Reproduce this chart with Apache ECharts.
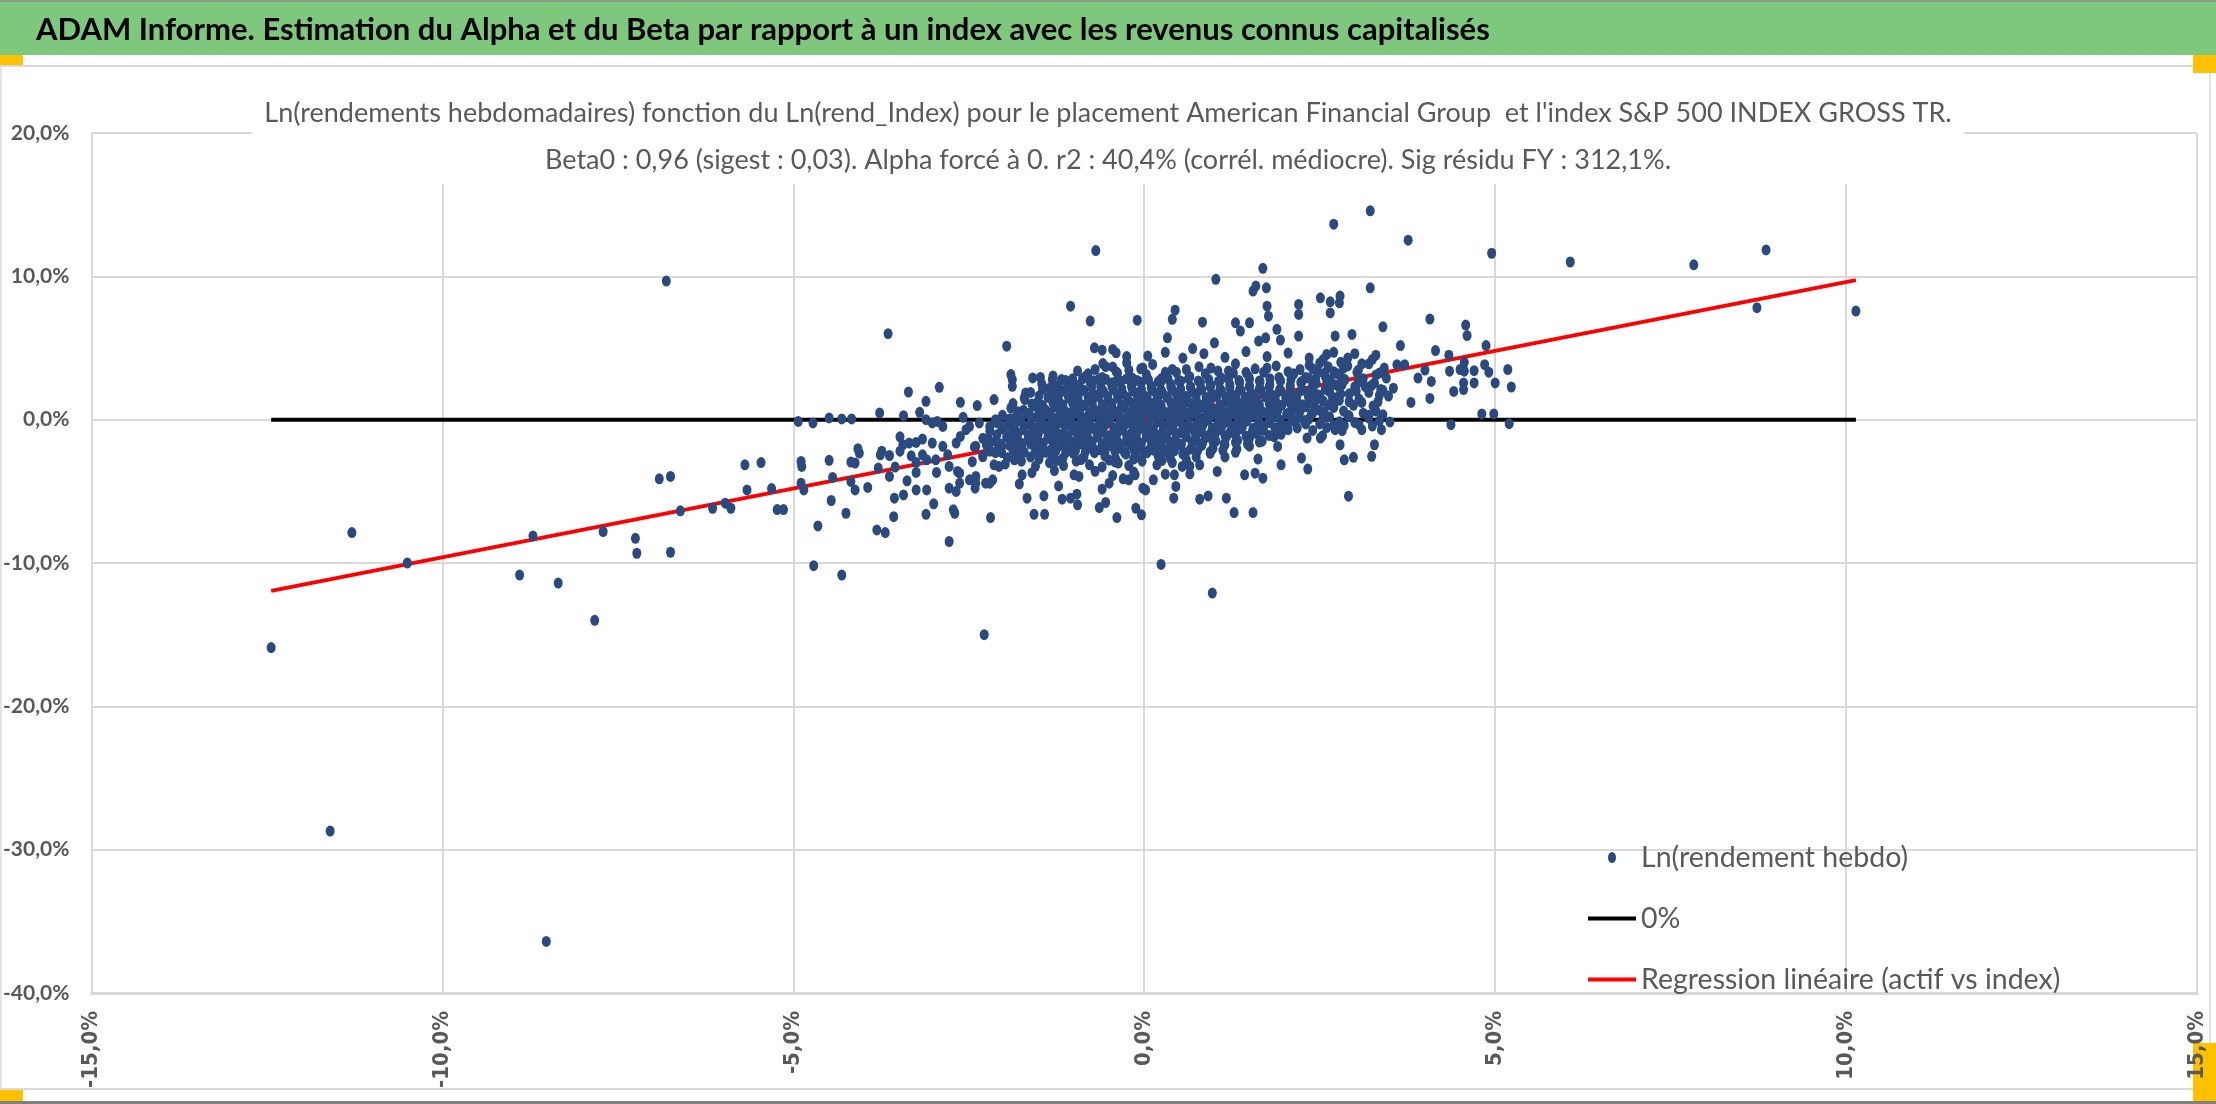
<!DOCTYPE html>
<html>
<head>
<meta charset="utf-8">
<title>ADAM Informe - Alpha et Beta</title>
<script src="https://cdn.jsdelivr.net/npm/echarts/dist/echarts.min.js"></script>
<style>
    html, body { margin: 0; padding: 0; background: #fff; }
    #chart { width: 2216px; height: 1104px; }
</style>
</head>
<body>
<div id="chart"></div>
<script>
/**
 * Ln(rendement hebdo) de l'actif contre Ln(rend_Index)
 */
var headerText = 'ADAM Informe. Estimation du Alpha et du Beta par rapport à un index avec les revenus connus capitalisés';
var titleLines = [
    "Ln(rendements hebdomadaires) fonction du Ln(rend_Index) pour le placement American Financial Group  et l'index S&P 500 INDEX GROSS TR.",
    'Beta0 : 0,96 (sigest : 0,03). Alpha forcé à 0. r2 : 40,4% (corrél. médiocre). Sig résidu FY : 312,1%.'
];
var seriesNames = ['Ln(rendement hebdo)', '0%', 'Regression linéaire (actif vs index)'];
var beta = 0.96;
var xRange = [-15, 15, 5];
var yRange = [-40, 20, 10];

// points : [index %, actif %]
var farPoints = [
    [-12.44,-15.9],[-11.6,-28.7],[-11.29,-7.88],[-10.5,-10.0],[-8.9,-10.84],[-8.71,-8.11],[-8.52,-36.4],
    [-8.35,-11.4],[-7.83,-14.0],[-7.71,-7.81],[-7.25,-8.28],[-7.23,-9.32],[-6.91,-4.13],[-6.81,9.67],
    [-6.75,-3.96],[-6.75,-9.25],[-6.61,-6.36],[-6.15,-6.18],[-5.97,-5.83],[-5.89,-6.18],[-5.69,-3.15],
    [-5.66,-4.9],[-5.46,-2.99],[-5.31,-4.81],[-5.23,-6.27],[-5.14,-6.27],[-4.93,-0.12],[-4.72,-0.23],
    [-4.49,0.12],[-4.31,0.05],[-4.17,0.05],[-3.77,0.47],[-4.89,-2.91],[-4.88,-3.26],[-4.89,-4.43],
    [-4.85,-4.9],[-4.71,-10.19],[-4.65,-7.41],[-4.49,-2.84],[-4.44,-4.03],[-4.46,-5.64],[-4.31,-10.84],
    [-4.25,-6.53],[-4.18,-2.96],[-4.12,-3.03],[-4.08,-2.03],[-4.06,-2.33],[-4.18,-4.31],[-4.12,-4.9],
    [-3.94,-4.73],[-3.81,-7.69],[-3.69,-7.88],[-3.79,-3.38],[-3.74,-2.2],[-3.76,-2.45],[-3.63,-2.5],
    [-3.63,-3.96],[-3.55,-3.31],[-3.56,-5.48],[-3.57,-6.77],[-3.43,-5.25],[-3.48,-1.2],[-3.48,-2.2],
    [-3.65,6.0]
];
var midPoints = [
    [-3.36,1.93],[-2.92,2.26],[-3.11,1.28],[-2.62,1.21],[-2.38,0.98],[-2.14,1.4],[-1.69,1.86],[-1.71,1.51],
    [-1.87,1.12],[-3.43,0.28],[-3.2,0.51],[-3.44,-1.75],[-3.35,-1.63],[-3.25,-1.59],[-3.16,-1.35],[-3.11,0.0],
    [-3.02,-0.23],[-2.95,-0.12],[-2.87,-0.47],[-3.32,-2.52],[-3.25,-2.98],[-3.25,-3.68],[-3.16,-2.45],
    [-3.1,-2.8],[-3.02,-1.63],[-2.97,-2.8],[-2.96,-3.68],[-2.87,-1.86],[-2.8,-2.45],[-2.78,-3.26],
    [-2.66,-3.61],[-2.68,-1.63],[-2.62,-1.17],[-2.54,-0.7],[-2.49,-0.47],[-2.58,0.16],[-2.45,-2.93],
    [-2.4,-1.86],[-2.35,-0.23],[-2.3,-2.59],[-2.23,-1.31],[-2.2,-0.47],[-2.12,0.0],[-2.07,-3.26],
    [-2.14,-3.15],[-2.16,-4.2],[-2.2,-4.43],[-2.4,-4.43],[-2.41,-4.78],[-2.26,-4.43],[-2.4,-3.96],
    [-2.49,-4.2],[-2.78,-4.78],[-2.68,-5.01],[-2.63,-4.43],[-2.63,-3.73],[-2.7,-6.53],[-2.72,-6.29],
    [-2.78,-8.5],[-3.0,-5.87],[-3.11,-6.6],[-3.1,-4.9],[-3.25,-4.9],[-3.38,-4.27],[-2.28,-15.0],
    [-2.19,-6.83],[-1.67,-5.48],[-1.57,-6.6],[-1.42,-6.6],[-1.43,-5.31],[-1.78,-4.48],[-1.22,-4.62],
    [-1.17,-5.55],[-1.05,-5.48],[-0.96,-5.2],[-0.95,-5.94],[-0.64,-6.13],[-0.55,-5.78],[-0.39,-6.83],
    [-0.12,-6.18],[-0.04,-6.64],[-0.6,-4.85],[-0.5,-4.43],[-0.3,-4.13],[-0.22,-4.2],[-0.13,-3.85],
    [-0.02,-4.78],[-0.93,-3.96],[-1.74,-3.85],[-1.05,7.92],[-0.77,6.88],[-0.1,6.94],[-0.69,11.8],
    [-1.96,5.13],[-0.71,5.01],[-0.6,4.85],[-0.4,4.66],[-0.59,3.91],[-0.45,3.68],[-0.25,3.96],[-0.02,3.61],
    [-1.9,3.15],[-1.88,2.8],[-1.88,2.33],[-1.59,2.91],[-1.48,2.95],[-1.31,2.8],[-1.12,2.73],[-0.83,3.03],
    [-0.64,2.84]
];
var rightPoints = [
    [3.22,14.57],[2.7,13.64],[3.76,12.52],[4.95,11.61],[6.07,11.0],[7.83,10.8],[8.86,11.84],[8.73,7.81],
    [10.14,7.58],[1.69,10.56],[1.02,9.79],[1.59,9.32],[1.55,8.97],[1.74,9.2],[3.22,9.2],[2.79,8.62],
    [2.51,8.5],[2.65,8.22],[2.78,8.15],[2.65,7.45],[2.2,8.04],[2.2,7.34],[1.75,7.92],[1.77,7.22],
    [0.44,7.64],[0.4,7.0],[0.83,6.8],[1.3,6.76],[1.37,6.18],[1.5,6.76],[1.89,6.3],[3.4,6.48],[4.07,7.02],
    [4.58,6.6],[4.6,5.87],[4.87,5.17],[4.15,4.82],[3.65,5.17],[2.96,5.95],[2.72,5.83],[2.2,5.83],
    [1.94,5.55],[1.63,5.48],[1.73,5.71],[1.0,5.36],[0.33,5.71],[0.69,4.96],[4.34,4.5],[4.35,3.38],
    [4.56,3.38],[4.55,2.56],[4.7,2.56],[4.41,1.97],[4.55,2.1],[4.5,3.5],[4.56,4.0],[4.7,3.42],[4.85,3.84],
    [4.91,3.31],[5.0,2.56],[5.18,3.5],[5.23,2.28],[4.81,0.4],[4.98,0.4],[5.2,-0.28],[4.37,-0.35],
    [3.5,-0.16],[3.38,-0.7],[3.28,-1.75],[3.24,-2.56],[2.98,-2.63],[2.85,-2.8],[2.91,-5.34],[2.79,-1.75],
    [2.72,-0.7],[2.82,-0.77],[2.54,-1.12],[2.51,-1.28],[2.32,-1.28],[2.33,-3.45],[2.24,-2.68],[1.95,-3.15],
    [1.9,-1.87],[1.62,-2.75],[1.58,-3.73],[1.69,-4.08],[1.43,-3.85],[1.55,-6.48],[1.28,-6.48],[1.17,-5.48],
    [1.04,-3.61],[0.91,-5.32],[0.79,-5.55],[0.79,-3.15],[0.65,-3.78],[0.42,-5.48],[0.45,-4.66],[0.43,-3.85],
    [0.54,-3.26],[0.24,-10.1],[0.97,-12.1],[0.13,-4.2],[0.02,-4.9],[-0.37,-3.03],[3.37,2.1],[3.55,2.2],
    [3.48,1.65],[3.6,3.84],[3.71,3.84],[3.42,3.6],[3.3,3.1],[4.0,3.46],[4.07,1.48],[4.09,2.67],[3.9,2.9],
    [3.8,1.2],[2.9,4.3],[3.1,3.9],[3.3,4.5],[2.7,4.7],[3.15,2.3],[3.35,1.7],[3.1,1.2],[3.3,0.6],[2.9,0.3],
    [3.2,0.1],[3.45,2.9],[3.0,-0.2],[2.7,-0.4],[3.25,-0.45]
];
// le noyau dense autour de zéro
var corePoints = [
    [-0.45,4.9],[-0.25,4.4],[0.05,4.45],[0.3,4.7],[0.55,4.3],[0.85,4.6],[1.15,4.35],[1.45,4.75],[1.75,4.4],[2.05,4.65],[2.35,4.3],[2.6,4.55],
    [-0.55,3.7],[-0.22,3.45],[0.12,3.85],[0.4,3.5],[0.78,3.7],[1.05,3.4],[1.3,3.9],[1.58,3.55],[1.88,3.75],[2.22,3.5],[2.5,3.95],[2.84,3.6],
    [-1.3,3.05],[-1.02,2.85],[-0.8,3.2],[-0.6,2.95],[-0.38,3.25],[-0.17,2.9],[0.03,3.15],[0.24,2.85],[0.46,3.3],[0.65,3.0],[0.87,3.2],
    [1.1,2.9],[1.27,3.25],[1.49,3.0],[1.7,3.3],[1.92,2.95],[2.13,3.2],[2.34,2.9],[2.57,3.25],[2.8,3.0],[3.03,3.3],
    [-1.46,2.5],[-1.26,2.35],[-1.1,2.65],[-0.94,2.4],[-0.77,2.6],[-0.62,2.3],[-0.47,2.55],[-0.33,2.7],[-0.18,2.4],[-0.04,2.6],[0.1,2.35],
    [0.24,2.65],[0.38,2.45],[0.52,2.7],[0.66,2.3],[0.8,2.55],[0.95,2.4],[1.08,2.7],[1.22,2.45],[1.36,2.6],[1.5,2.35],[1.65,2.65],
    [1.79,2.45],[1.94,2.7],[2.08,2.4],[2.23,2.6],[2.4,2.35],[2.6,2.7],[2.82,2.45],[3.05,2.6],[3.24,2.4],
    [-1.62,1.9],[-1.45,2.1],[-1.3,1.75],[-1.15,2.0],[-1.0,1.8],[-0.86,2.05],[-0.72,1.7],[-0.58,1.95],[-0.44,2.1],[-0.3,1.8],[-0.16,2.0],
    [-0.02,1.75],[0.12,2.05],[0.26,1.85],[0.4,2.1],[0.54,1.7],[0.68,1.95],[0.82,2.1],[0.96,1.8],[1.1,2.0],[1.24,1.75],[1.38,2.05],
    [1.52,1.85],[1.66,2.1],[1.8,1.8],[1.95,2.0],[2.1,1.75],[2.26,2.05],[2.43,1.85],[2.6,2.1],[2.8,1.8],[3.02,2.0],
    [-1.7,1.4],[-1.52,1.2],[-1.37,1.55],[-1.22,1.3],[-1.07,1.5],[-0.93,1.2],[-0.79,1.45],[-0.65,1.6],[-0.51,1.25],[-0.37,1.5],[-0.23,1.3],
    [-0.09,1.55],[0.05,1.2],[0.19,1.45],[0.33,1.6],[0.47,1.3],[0.61,1.5],[0.75,1.2],[0.89,1.45],[1.03,1.6],[1.17,1.3],[1.31,1.5],
    [1.45,1.2],[1.59,1.45],[1.73,1.6],[1.87,1.3],[2.02,1.5],[2.18,1.2],[2.35,1.45],[2.55,1.3],[2.75,1.55],[2.92,1.25],
    [-1.9,0.8],[-1.72,0.65],[-1.56,0.95],[-1.41,0.7],[-1.27,0.9],[-1.13,0.6],[-0.99,0.85],[-0.85,1.0],[-0.71,0.7],[-0.57,0.9],[-0.43,0.6],
    [-0.29,0.85],[-0.15,1.0],[-0.01,0.7],[0.13,0.9],[0.27,0.6],[0.41,0.85],[0.55,1.0],[0.69,0.7],[0.83,0.9],[0.97,0.6],[1.11,0.85],
    [1.25,1.0],[1.39,0.7],[1.53,0.9],[1.67,0.6],[1.81,0.85],[1.96,1.0],[2.12,0.7],[2.3,0.9],[2.5,0.65],[2.7,0.85],
    [-2.02,0.3],[-1.85,0.1],[-1.68,0.45],[-1.53,0.2],[-1.39,0.4],[-1.25,0.1],[-1.11,0.35],[-0.97,0.5],[-0.83,0.15],[-0.69,0.4],[-0.55,0.2],
    [-0.41,0.45],[-0.27,0.1],[-0.13,0.35],[0.01,0.5],[0.15,0.2],[0.29,0.4],[0.43,0.1],[0.57,0.35],[0.71,0.5],[0.85,0.15],[0.99,0.4],
    [1.13,0.2],[1.27,0.45],[1.41,0.1],[1.55,0.35],[1.7,0.5],[1.86,0.2],[2.03,0.4],[2.2,0.1],[2.38,0.35],[2.55,0.15],
    [-2.1,-0.2],[-1.93,-0.4],[-1.77,-0.1],[-1.62,-0.35],[-1.48,-0.15],[-1.34,-0.45],[-1.2,-0.2],[-1.06,-0.05],[-0.92,-0.4],[-0.78,-0.15],
    [-0.64,-0.35],[-0.5,-0.1],[-0.36,-0.45],[-0.22,-0.2],[-0.08,-0.05],[0.06,-0.4],[0.2,-0.15],[0.34,-0.35],[0.48,-0.1],[0.62,-0.45],
    [0.76,-0.2],[0.9,-0.05],[1.04,-0.4],[1.18,-0.15],[1.32,-0.35],[1.46,-0.1],[1.62,-0.4],[1.78,-0.2],[1.95,-0.35],[2.12,-0.1],[2.3,-0.3],
    [-2.2,-0.8],[-2.03,-0.65],[-1.87,-0.95],[-1.72,-0.7],[-1.58,-0.9],[-1.44,-0.6],[-1.3,-0.85],[-1.16,-1.0],[-1.02,-0.7],[-0.88,-0.9],
    [-0.74,-0.6],[-0.6,-0.85],[-0.46,-1.0],[-0.32,-0.7],[-0.18,-0.9],[-0.04,-0.6],[0.1,-0.85],[0.24,-1.0],[0.38,-0.7],[0.52,-0.9],
    [0.66,-0.6],[0.8,-0.85],[0.94,-1.0],[1.08,-0.7],[1.22,-0.9],[1.37,-0.65],[1.53,-0.95],[1.7,-0.75],[1.88,-0.9],[2.05,-0.7],
    [-2.3,-1.3],[-2.12,-1.5],[-1.96,-1.2],[-1.8,-1.45],[-1.65,-1.25],[-1.5,-1.55],[-1.36,-1.3],[-1.22,-1.15],[-1.08,-1.45],[-0.94,-1.25],
    [-0.8,-1.5],[-0.66,-1.2],[-0.52,-1.4],[-0.38,-1.55],[-0.24,-1.25],[-0.1,-1.45],[0.04,-1.2],[0.18,-1.5],[0.32,-1.3],[0.46,-1.55],
    [0.6,-1.2],[0.74,-1.45],[0.88,-1.25],[1.02,-1.5],[1.17,-1.2],[1.33,-1.45],[1.5,-1.3],[1.68,-1.5],[1.85,-1.2],
    [-2.42,-1.9],[-2.25,-1.75],[-2.08,-2.05],[-1.92,-1.8],[-1.77,-2.0],[-1.62,-1.7],[-1.47,-1.95],[-1.33,-2.1],[-1.19,-1.8],[-1.05,-2.0],
    [-0.91,-1.7],[-0.77,-1.95],[-0.63,-2.1],[-0.49,-1.8],[-0.35,-2.0],[-0.21,-1.75],[-0.07,-1.95],[0.07,-2.1],[0.21,-1.8],[0.35,-2.0],
    [0.5,-1.75],[0.66,-2.05],[0.82,-1.8],[0.98,-2.0],[1.15,-1.75],[1.32,-2.05],[1.5,-1.85],
    [-2.3,-2.5],[-2.12,-2.3],[-1.95,-2.65],[-1.78,-2.4],[-1.62,-2.6],[-1.46,-2.3],[-1.31,-2.55],[-1.16,-2.7],[-1.01,-2.35],[-0.86,-2.6],
    [-0.71,-2.3],[-0.56,-2.55],[-0.41,-2.7],[-0.26,-2.4],[-0.11,-2.6],[0.04,-2.3],[0.2,-2.55],[0.37,-2.7],[0.55,-2.4],[0.74,-2.6],
    [0.94,-2.35],[1.15,-2.6],
    [-1.98,-3.1],[-1.75,-2.9],[-1.55,-3.25],[-1.35,-3.0],[-1.15,-3.2],[-0.97,-2.9],[-0.78,-3.15],[-0.6,-3.3],[-0.42,-2.95],[-0.22,-3.2],
    [-0.03,-2.9],[0.18,-3.15],[0.4,-3.0],[0.65,-3.25],
    [-1.6,-3.7],[-1.28,-3.55],[-1.0,-3.85],[-0.7,-3.6],[-0.45,-3.9],[-0.15,-3.65],[0.3,-3.8]
];
// deuxième couche du noyau, entre les précédentes
var coreFillPoints = [
    [-0.95,3.4],[-0.7,3.5],[-0.4,3.35],[-0.05,3.55],[0.3,3.3],[0.6,3.5],[0.95,3.6],[1.2,3.4],[1.45,3.3],[1.75,3.6],[2.05,3.35],[2.4,3.55],[2.7,3.35],
    [-1.18,2.8],[-1.03,2.7],[-0.88,2.85],[-0.72,2.72],[-0.55,2.82],[-0.4,2.68],[-0.25,2.86],[-0.1,2.74],[0.06,2.8],[0.2,2.66],[0.34,2.84],
    [0.49,2.72],[0.63,2.86],[0.77,2.7],[0.92,2.8],[1.06,2.68],[1.2,2.85],[1.35,2.74],[1.5,2.82],[1.64,2.7],[1.79,2.86],[1.94,2.72],
    [2.09,2.8],[2.25,2.68],[2.44,2.84],[2.65,2.75],
    [-1.35,2.2],[-1.2,2.1],[-1.05,2.28],[-0.9,2.14],[-0.75,2.24],[-0.6,2.1],[-0.46,2.3],[-0.32,2.16],[-0.18,2.26],[-0.04,2.12],[0.1,2.22],
    [0.24,2.08],[0.38,2.28],[0.52,2.15],[0.66,2.25],[0.8,2.1],[0.94,2.28],[1.08,2.14],[1.22,2.24],[1.36,2.1],[1.5,2.3],[1.64,2.16],
    [1.78,2.26],[1.93,2.12],[2.08,2.22],[2.24,2.1],[2.4,2.25],[2.58,2.15],[2.78,2.25],
    [-1.5,1.65],[-1.36,1.55],[-1.22,1.72],[-1.08,1.6],[-0.94,1.7],[-0.8,1.56],[-0.66,1.74],[-0.52,1.62],[-0.38,1.68],[-0.24,1.55],
    [-0.1,1.72],[0.04,1.6],[0.18,1.7],[0.32,1.56],[0.46,1.74],[0.6,1.62],[0.74,1.68],[0.88,1.55],[1.02,1.72],[1.16,1.6],[1.3,1.7],
    [1.44,1.56],[1.58,1.74],[1.72,1.62],[1.87,1.68],[2.02,1.55],[2.18,1.72],[2.34,1.6],[2.5,1.7],[2.68,1.58],
    [-1.6,1.1],[-1.45,1.0],[-1.3,1.16],[-1.16,1.04],[-1.02,1.14],[-0.88,1.0],[-0.74,1.18],[-0.6,1.06],[-0.46,1.12],[-0.32,1.0],
    [-0.18,1.16],[-0.04,1.04],[0.1,1.14],[0.24,1.0],[0.38,1.18],[0.52,1.06],[0.66,1.12],[0.8,1.0],[0.94,1.16],[1.08,1.04],[1.22,1.14],
    [1.36,1.0],[1.5,1.18],[1.64,1.06],[1.78,1.12],[1.93,1.0],[2.08,1.16],[2.25,1.04],[2.42,1.14],[2.62,1.02],
    [-1.8,0.55],[-1.64,0.45],[-1.49,0.6],[-1.34,0.48],[-1.2,0.58],[-1.06,0.44],[-0.92,0.62],[-0.78,0.5],[-0.64,0.56],[-0.5,0.44],
    [-0.36,0.6],[-0.22,0.48],[-0.08,0.58],[0.06,0.44],[0.2,0.62],[0.34,0.5],[0.48,0.56],[0.62,0.44],[0.76,0.6],[0.9,0.48],[1.04,0.58],
    [1.18,0.44],[1.32,0.62],[1.46,0.5],[1.6,0.56],[1.75,0.44],[1.9,0.6],[2.06,0.48],[2.22,0.58],[2.4,0.46],
    [-1.92,0.05],[-1.76,-0.05],[-1.61,0.1],[-1.46,-0.02],[-1.32,0.08],[-1.18,-0.06],[-1.04,0.12],[-0.9,0.0],[-0.76,0.06],[-0.62,-0.06],
    [-0.48,0.1],[-0.34,-0.02],[-0.2,0.08],[-0.06,-0.06],[0.08,0.12],[0.22,0.0],[0.36,0.06],[0.5,-0.06],[0.64,0.1],[0.78,-0.02],[0.92,0.08],
    [1.06,-0.06],[1.2,0.12],[1.34,0.0],[1.48,0.06],[1.63,-0.06],[1.78,0.1],[1.94,-0.02],[2.1,0.08],[2.28,-0.05],
    [-2.0,-0.5],[-1.85,-0.6],[-1.7,-0.45],[-1.55,-0.56],[-1.41,-0.46],[-1.27,-0.6],[-1.13,-0.42],[-0.99,-0.54],[-0.85,-0.48],[-0.71,-0.6],
    [-0.57,-0.44],[-0.43,-0.56],[-0.29,-0.46],[-0.15,-0.6],[-0.01,-0.42],[0.13,-0.54],[0.27,-0.48],[0.41,-0.6],[0.55,-0.44],[0.69,-0.56],
    [0.83,-0.46],[0.97,-0.6],[1.11,-0.42],[1.25,-0.54],[1.4,-0.48],[1.55,-0.6],[1.7,-0.44],[1.86,-0.56],[2.02,-0.46],[2.18,-0.58],
    [-2.1,-1.05],[-1.95,-1.15],[-1.8,-1.0],[-1.65,-1.1],[-1.51,-1.0],[-1.37,-1.14],[-1.23,-0.98],[-1.09,-1.1],[-0.95,-1.04],[-0.81,-1.16],
    [-0.67,-1.0],[-0.53,-1.12],[-0.39,-1.02],[-0.25,-1.14],[-0.11,-0.98],[0.03,-1.1],[0.17,-1.04],[0.31,-1.16],[0.45,-1.0],[0.59,-1.12],
    [0.73,-1.02],[0.87,-1.14],[1.01,-0.98],[1.15,-1.1],[1.3,-1.04],[1.45,-1.16],[1.61,-1.0],[1.78,-1.1],[1.95,-1.02],
    [-2.2,-1.6],[-2.04,-1.7],[-1.89,-1.56],[-1.74,-1.66],[-1.59,-1.54],[-1.44,-1.68],[-1.3,-1.58],[-1.16,-1.7],[-1.02,-1.56],[-0.88,-1.64],
    [-0.74,-1.54],[-0.6,-1.68],[-0.46,-1.58],[-0.32,-1.7],[-0.18,-1.56],[-0.04,-1.64],[0.1,-1.54],[0.24,-1.68],[0.38,-1.58],[0.53,-1.7],
    [0.68,-1.56],[0.83,-1.64],[0.98,-1.54],[1.14,-1.68],[1.3,-1.58],[1.47,-1.7],[1.64,-1.56],
    [-2.2,-2.2],[-2.03,-2.3],[-1.87,-2.15],[-1.71,-2.26],[-1.55,-2.14],[-1.4,-2.28],[-1.26,-2.18],[-1.12,-2.3],[-0.98,-2.16],[-0.84,-2.24],
    [-0.7,-2.14],[-0.56,-2.28],[-0.42,-2.18],[-0.28,-2.3],[-0.14,-2.16],[0.0,-2.24],[0.14,-2.14],[0.28,-2.28],[0.43,-2.18],[0.59,-2.3],
    [0.76,-2.16],[0.94,-2.24],[1.12,-2.14],[1.3,-2.28],
    [-1.85,-2.8],[-1.5,-2.75],[-1.25,-2.85],[-0.9,-2.78],[-0.5,-2.82],[-0.15,-2.75],[0.25,-2.85],[0.6,-2.8]
];
// flanc droit du noyau (index entre 2,3% et 3,4%)
var coreRightPoints = [
    [2.35,3.8],[2.48,3.3],[2.62,3.7],[2.75,3.2],[2.9,3.75],[3.05,3.45],[3.2,3.9],[3.35,3.25],
    [2.3,2.95],[2.45,2.55],[2.58,3.0],[2.7,2.45],[2.86,2.8],[3.0,2.3],[3.12,2.85],[3.28,2.55],[3.4,2.05],
    [2.35,1.95],[2.5,1.5],[2.64,1.95],[2.78,1.35],[2.92,1.8],[3.06,1.45],[3.2,1.9],[3.33,1.25],
    [2.42,1.0],[2.56,0.5],[2.7,1.1],[2.84,0.6],[2.98,1.0],[3.12,0.45],[3.26,0.95],[3.4,0.35],
    [2.35,0.05],[2.5,-0.3],[2.64,0.2],[2.78,-0.15],[2.92,0.25],[3.06,-0.35],[3.2,0.3],[3.35,-0.1],
    [2.4,-0.75],[2.6,-0.55],[2.85,-0.4],[3.1,-0.7],
    [2.55,4.2],[2.8,4.0],[3.0,4.6],[3.25,4.2]
];

(function () {
    var FONT = "Lato, 'Liberation Sans', sans-serif";
    var GREY = '#595959';

    var points = farPoints.concat(midPoints, rightPoints, corePoints, coreFillPoints, coreRightPoints);
    var xs = points.map(function (p) { return p[0]; });
    var xMin = Math.min.apply(null, xs);
    var xMax = Math.max.apply(null, xs);
    var zeroLine = [[xMin, 0], [xMax, 0]];
    var regLine = [[xMin, beta * xMin], [xMax, beta * xMax]];

    function pct(v) {
        return v.toFixed(1).replace('.', ',') + '%';
    }

    var chart = echarts.init(document.getElementById('chart'));
    chart.setOption({
        animation: false,
        backgroundColor: '#fff',
        title: {
            text: titleLines.join('\n'),
            left: 'center',
            top: 86,
            backgroundColor: '#fff',
            padding: [4, 12, 0, 12],
            textStyle: {
                color: GREY,
                fontFamily: FONT,
                fontSize: 27,
                fontWeight: 'normal',
                lineHeight: 47
            }
        },
        grid: {left: 85, right: 19, top: 133, bottom: 111},
        xAxis: {
            type: 'value',
            min: xRange[0], max: xRange[1], interval: xRange[2],
            axisLine: {show: true, onZero: false, lineStyle: {color: '#d9d9d9', width: 3}},
            axisTick: {show: false},
            splitLine: {show: true, lineStyle: {color: '#d9d9d9', width: 2}},
            axisLabel: {
                rotate: 90,
                margin: 18,
                formatter: pct,
                color: GREY,
                fontFamily: "'DejaVu Sans Condensed', 'DejaVu Sans'",
                fontWeight: 'bold',
                fontSize: 22
            }
        },
        yAxis: {
            type: 'value',
            min: yRange[0], max: yRange[1], interval: yRange[2],
            axisLine: {show: false},
            axisTick: {show: false},
            splitLine: {show: true, lineStyle: {color: '#d9d9d9', width: 2}},
            axisLabel: {
                margin: 22,
                formatter: pct,
                color: GREY,
                fontFamily: FONT,
                fontWeight: 'bold',
                fontSize: 21
            }
        },
        legend: {
            orient: 'vertical',
            left: 1583,
            top: 838,
            itemWidth: 48,
            itemHeight: 11,
            itemGap: 32,
            selectedMode: false,
            symbolKeepAspect: true,
            data: [
                {name: seriesNames[0], icon: 'path://M4,0 A4,5.5 0 1 1 4,11 A4,5.5 0 1 1 4,0 Z'},
                {name: seriesNames[1], icon: 'path://M0,0 H48 V4 H0 Z'},
                {name: seriesNames[2], icon: 'path://M0,0 H48 V4 H0 Z'}
            ],
            textStyle: {color: GREY, fontFamily: FONT, fontSize: 28.5}
        },
        graphic: [
            {type: 'rect', shape: {x: 0, y: 0, width: 2216, height: 2}, style: {fill: '#8c9a8c'}},
            {type: 'rect', shape: {x: 0, y: 2, width: 2216, height: 53}, style: {fill: '#7ec87e'}},
            {type: 'text', x: 36, y: 30, style: {
                text: headerText, fill: '#000', fontFamily: FONT, fontSize: 31,
                fontWeight: 'bold', verticalAlign: 'middle'
            }},
            {type: 'rect', shape: {x: 0, y: 65, width: 2216, height: 2}, style: {fill: '#d9d9d9'}},
            {type: 'rect', shape: {x: 0, y: 66, width: 2, height: 1024}, style: {fill: '#e3e3e3'}},
            {type: 'rect', shape: {x: 2209, y: 66, width: 2, height: 1024}, style: {fill: '#e3e3e3'}},
            {type: 'rect', shape: {x: 0, y: 1088, width: 2216, height: 2}, style: {fill: '#d9d9d9'}},
            {type: 'rect', shape: {x: 0, y: 1101, width: 2216, height: 3}, style: {fill: '#808080'}},
            {type: 'rect', shape: {x: 0, y: 55, width: 23, height: 10}, style: {fill: '#ffc000'}},
            {type: 'rect', shape: {x: 2193, y: 55, width: 23, height: 18}, style: {fill: '#ffc000'}},
            {type: 'rect', shape: {x: 0, y: 1090, width: 23, height: 11}, style: {fill: '#ffc000'}},
            {type: 'rect', shape: {x: 2193, y: 1043, width: 23, height: 58}, style: {fill: '#ffc000'}}
        ],
        series: [
            {
                name: seriesNames[1],
                type: 'line',
                data: zeroLine,
                symbol: 'none',
                z: 2,
                lineStyle: {color: '#000000', width: 4},
                itemStyle: {color: '#000000'}
            },
            {
                name: seriesNames[2],
                type: 'line',
                data: regLine,
                symbol: 'none',
                z: 2,
                lineStyle: {color: '#ff0000', width: 4},
                itemStyle: {color: '#ff0000'}
            },
            {
                name: seriesNames[0],
                type: 'scatter',
                data: points,
                symbol: 'circle',
                symbolSize: [9, 11],
                progressive: 0,
                z: 3,
                itemStyle: {color: '#2a4a7f', opacity: 1}
            }
        ]
    });

    window.addEventListener('resize', function () {
        chart.resize();
    });
})();
</script>
</body>
</html>
